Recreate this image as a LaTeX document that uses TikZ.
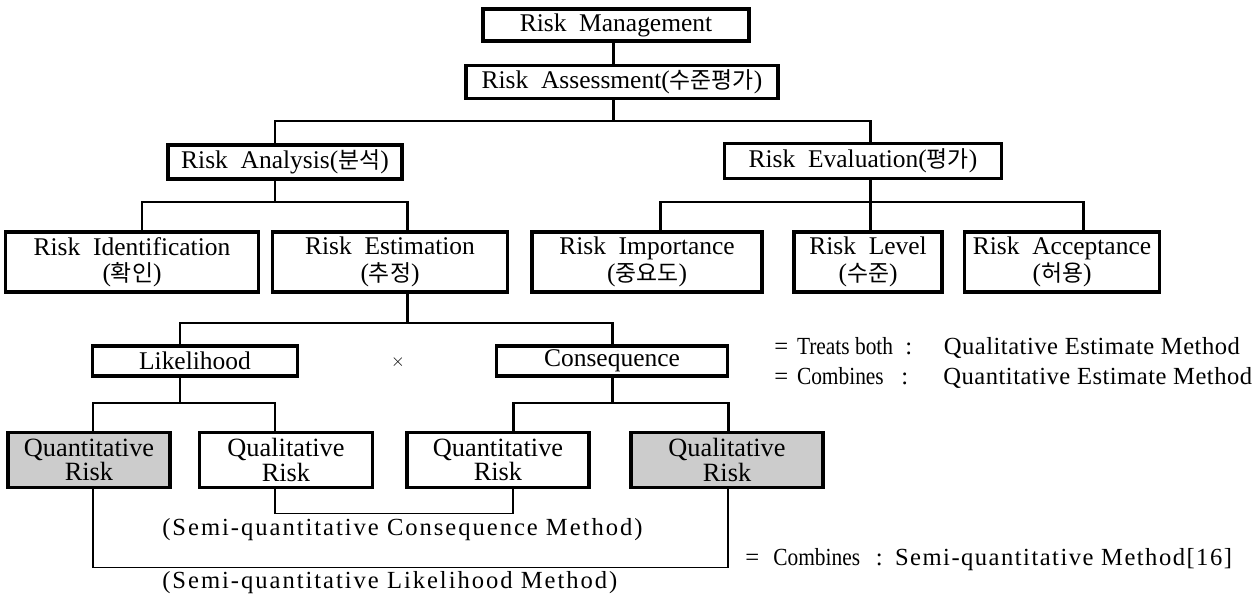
\documentclass[tikz,border=0pt]{standalone}
\usepackage{fontspec}
\setmainfont{Liberation Serif}
\newfontfamily\kr{Noto Sans CJK KR}
\newfontfamily\slim[FakeStretch=0.87]{Liberation Serif}
\newfontfamily\spaced[LetterSpace=2]{Liberation Serif}
\newfontfamily\wider[LetterSpace=6]{Liberation Serif}
\newfontfamily\wide[LetterSpace=8]{Liberation Serif}
\newcommand{\hg}[1]{{\kr\fontsize{13}{15}\selectfont #1}}

\begin{document}
\begin{tikzpicture}[x=0.02cm,y=-0.02cm,
    box/.style={draw,line width=1.9pt,inner sep=0pt,align=center,
      font=\fontsize{14.5}{15}\selectfont},
    riskbox/.style={box,font=\fontsize{15}{9.5}\selectfont},
    greybox/.style={riskbox,fill=black!20},
    link/.style={line width=1.7pt},
    thinlink/.style={line width=0.7pt},
    note/.style={anchor=west,inner sep=0pt,font=\fontsize{14}{16}\selectfont},
    caption/.style={anchor=west,inner sep=0pt,font=\wide\fontsize{14}{16}\selectfont}]
  \useasboundingbox (0,0) rectangle (1256,597);

  % top of the tree
  \node[box,minimum width=5.32cm,minimum height=0.64cm] (mgmt) at (616,25) {Risk\enspace Management};
  \node[box,minimum width=6.24cm,minimum height=0.66cm] (assess) at (622,82) {Risk\enspace Assessment(\hg{수준평가})};
  \node[box,minimum width=4.68cm,minimum height=0.68cm] (analysis) at (285,162) {Risk\enspace Analysis(\hg{분석})};
  \node[box,minimum width=5.54cm,minimum height=0.7cm] (evaluation) at (863,161) {Risk\enspace Evaluation(\hg{평가})};

  % second level
  \node[box,minimum width=5.06cm,minimum height=1.2cm] (ident) at (132,262) {Risk\enspace Identification\\(\hg{확인})};
  \node[box,minimum width=4.7cm,minimum height=1.2cm] (estim) at (390,262) {Risk\enspace Estimation\\(\hg{추정})};
  \node[box,minimum width=4.6cm,minimum height=1.2cm] (import) at (647,262) {Risk\enspace Importance\\(\hg{중요도})};
  \node[box,minimum width=2.96cm,minimum height=1.2cm] (level) at (868,262) {Risk\enspace Level\\(\hg{수준})};
  \node[box,minimum width=3.9cm,minimum height=1.2cm] (accept) at (1062,262) {Risk\enspace Acceptance\\(\hg{허용})};

  % estimation
  \node[box,minimum width=4.1cm,minimum height=0.6cm] (likeli) at (195,361) {Likelihood};
  \node[inner sep=0pt] (times) at (398,362) {$\times$};
  \node[box,minimum width=4.62cm,minimum height=0.6cm] (conseq) at (612,361) {Consequence};

  \node[greybox,minimum width=3.24cm,minimum height=1.1cm] (qn1) at (89,460) {Quantitative\\Risk};
  \node[riskbox,minimum width=3.46cm,minimum height=1.1cm] (ql1) at (286,460) {Qualitative\\Risk};
  \node[riskbox,minimum width=3.64cm,minimum height=1.1cm] (qn2) at (498,460) {Quantitative\\Risk};
  \node[greybox,minimum width=3.84cm,minimum height=1.1cm] (ql2) at (727,460) {Qualitative\\Risk};

  % junction points and columns
  \coordinate (b1) at (613,121);
  \coordinate (b2) at (275,202);
  \coordinate (b3) at (870,202);
  \coordinate (b4) at (407,323);
  \coordinate (b5) at (180,403);
  \coordinate (b6) at (612,403);
  \coordinate (c1) at (93,0);
  \coordinate (c2) at (275,0);
  \coordinate (c3) at (513,0);
  \coordinate (c4) at (728,0);

  \draw[link] (mgmt.south -| b1) -- (assess.north -| b1);
  \draw[link] (assess.south -| b1) -- (b1);
  \draw[link] (analysis.north -| b2) |- (b1) -| (evaluation.north -| b3);
  \draw[link] (analysis.south -| b2) -- (b2);
  \draw[link] (ident.north -| 142,0) |- (b2) -| (estim.north -| b4);
  \draw[link] (evaluation.south -| b3) -- (level.north -| b3);
  \draw[link] (import.north -| 660,0) |- (b3) -| (accept.north -| 1083,0);
  \draw[link] (estim.south -| b4) -- (b4);
  \draw[link] (likeli.north -| b5) |- (b4) -| (conseq.north -| b6);
  \draw[link] (likeli.south -| b5) -- (b5);
  \draw[link] (qn1.north -| c1) |- (b5) -| (ql1.north -| c2);
  \draw[link] (conseq.south -| b6) -- (b6);
  \draw[link] (qn2.north -| c3) |- (b6) -| (ql2.north -| c4);

  % semi-quantitative pairs
  \draw[thinlink] (ql1.south -| c2) -- ++(0,24) -| (qn2.south -| c3);
  \draw[thinlink] (qn1.south -| c1) -- ++(0,78) -| (ql2.south -| c4);
  \node[caption] (semicon) at (162,530) {(Semi-quantitative Consequence Method)};
  \node[caption] (semilike) at (162,583) {(Semi-quantitative Likelihood Method)};

  % notes on the right
  \node[note] (both) at (774,348) {=\hspace{5pt}{\slim Treats both}\hspace{7pt}:\hspace{18pt}{\spaced Qualitative Estimate Method}};
  \node[note] (comb) at (774,378) {=\hspace{5pt}{\slim Combines}\hspace{10pt}:\hspace{20pt}{\spaced Quantitative Estimate Method}};
  \node[note] (semi) at (745,560) {=\hspace{8pt}{\slim Combines}\hspace{9pt}:\hspace{7pt}{\wider Semi-quantitative Method[16]}};
\end{tikzpicture}
\end{document}
